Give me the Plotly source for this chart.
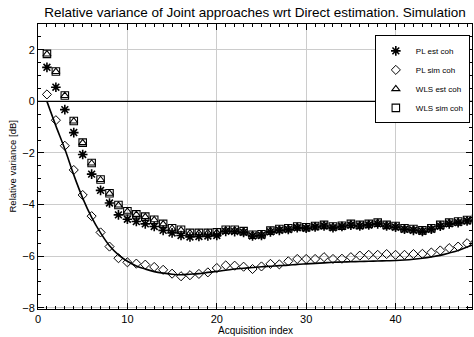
import plotly.graph_objects as go

x_idx = list(range(1, 50))

pl_est = [1.32, 0.55, -0.32, -1.21, -2.06, -2.82, -3.45, -3.94, -4.40, -4.57,
          -4.66, -4.75, -4.85, -5.00, -5.10, -5.20, -5.26, -5.24, -5.22, -5.20,
          -5.04, -5.05, -5.08, -5.22, -5.20, -5.06, -5.00, -4.97, -4.90, -4.92,
          -4.87, -4.83, -4.90, -4.85, -4.80, -4.83, -4.79, -4.75, -4.83, -4.88,
          -4.96, -5.00, -5.04, -4.96, -4.84, -4.75, -4.70, -4.64, -4.60]

pl_sim = [0.27, -0.73, -1.72, -2.66, -3.63, -4.45, -5.08, -5.63, -6.08, -6.24,
          -6.29, -6.33, -6.42, -6.53, -6.68, -6.78, -6.74, -6.69, -6.63, -6.46,
          -6.36, -6.37, -6.41, -6.50, -6.40, -6.30, -6.32, -6.20, -6.11, -6.11,
          -6.11, -6.04, -6.11, -6.10, -6.04, -5.98, -5.95, -5.95, -5.92, -5.95,
          -5.95, -5.92, -5.91, -5.86, -5.78, -5.69, -5.63, -5.50, -5.42]

wls_est = [1.83, 1.15, 0.22, -0.77, -1.61, -2.40, -3.04, -3.57, -4.03, -4.27,
           -4.39, -4.48, -4.60, -4.76, -4.93, -4.99, -5.11, -5.11, -5.10, -5.09,
           -4.99, -4.99, -5.04, -5.18, -5.16, -5.02, -4.96, -4.93, -4.86, -4.89,
           -4.84, -4.80, -4.86, -4.83, -4.76, -4.80, -4.76, -4.71, -4.80, -4.84,
           -4.93, -4.96, -5.01, -4.93, -4.80, -4.71, -4.67, -4.61, -4.56]

wls_sim = [1.84, 1.16, 0.23, -0.76, -1.60, -2.39, -3.03, -3.56, -4.02, -4.26,
           -4.38, -4.47, -4.59, -4.75, -4.92, -4.98, -5.10, -5.10, -5.10, -5.08,
           -4.98, -4.98, -5.03, -5.17, -5.15, -5.01, -4.95, -4.92, -4.85, -4.88,
           -4.83, -4.79, -4.85, -4.82, -4.75, -4.79, -4.75, -4.70, -4.79, -4.83,
           -4.92, -4.95, -5.00, -4.92, -4.79, -4.70, -4.66, -4.60, -4.55]

theory = [0.0, -0.95, -1.85, -2.85, -3.75, -4.50, -5.10, -5.60, -5.95, -6.20,
          -6.38, -6.50, -6.60, -6.66, -6.70, -6.72, -6.70, -6.68, -6.63, -6.59,
          -6.55, -6.50, -6.47, -6.44, -6.41, -6.39, -6.37, -6.35, -6.32, -6.30,
          -6.28, -6.26, -6.24, -6.23, -6.22, -6.21, -6.20, -6.19, -6.18, -6.17,
          -6.15, -6.12, -6.08, -6.03, -5.97, -5.88, -5.78, -5.65, -5.50]

names = ["PL est coh", "PL sim coh", "WLS est coh", "WLS sim coh"]

fig = go.Figure()
fig.add_trace(go.Scatter(x=x_idx, y=theory, mode="lines", line=dict(color="black", width=1.6, shape="spline"),
                         showlegend=False, hoverinfo="skip"))
fig.add_trace(go.Scatter(x=x_idx, y=wls_sim, mode="markers", name=names[3],
                         marker=dict(symbol="square-open", size=7.5, color="black", line=dict(width=1.1))))
fig.add_trace(go.Scatter(x=x_idx, y=wls_est, mode="markers", name=names[2],
                         marker=dict(symbol="triangle-up-open", size=7, color="black", line=dict(width=1.1))))
fig.add_trace(go.Scatter(x=x_idx, y=pl_sim, mode="markers", name=names[1],
                         marker=dict(symbol="diamond-open", size=7, color="black", line=dict(width=1))))
fig.add_trace(go.Scatter(x=x_idx, y=pl_est, mode="markers", name=names[0],
                         marker=dict(symbol="asterisk-open", size=8, color="black", line=dict(width=1.6))))

fig.add_hline(y=0, line=dict(color="black", width=1.2))

axis_common = dict(
    showline=True, linecolor="black", linewidth=1, mirror="allticks",
    ticks="inside", tickcolor="black", ticklen=6, tickwidth=1,
    showgrid=True, gridcolor="#cccccc", gridwidth=1.2, zeroline=False,
    tickfont=dict(family="Liberation Sans", size=11, color="black"),
)

fig.update_xaxes(range=[0, 48.55], dtick=10, tick0=0,
                 minor=dict(dtick=1, ticklen=3, ticks="inside", tickcolor="black", showgrid=False),
                 **axis_common)
fig.update_yaxes(range=[-8.05, 3.0], dtick=2, tick0=0,
                 minor=dict(dtick=0.5, ticklen=3, ticks="inside", tickcolor="black", showgrid=False),
                 **axis_common)

fig.update_layout(
    width=474, height=337,
    margin=dict(l=38, r=2, t=24, b=28),
    plot_bgcolor="white", paper_bgcolor="white",
    font=dict(family="Liberation Sans", color="black"),
    title=dict(text="Relative variance of Joint approaches wrt Direct estimation. Simulation",
               x=0.538, xref="container", xanchor="center", y=1 - 12 / 337, yref="container",
               yanchor="middle", font=dict(size=13.5, family="Liberation Sans", color="black")),
    legend=dict(x=0.995, y=0.96, xanchor="right", yanchor="top",
                bordercolor="black", borderwidth=1, bgcolor="white",
                font=dict(size=8, family="Liberation Sans", color="black"),
                traceorder="reversed", itemwidth=30, tracegroupgap=0),
    annotations=[
        dict(text="Acquisition index", xref="paper", yref="paper", x=0.5, y=-21.5 / 285,
             xanchor="center", yanchor="middle", showarrow=False,
             font=dict(size=10, family="Liberation Sans", color="black")),
        dict(text="Relative variance [dB]", xref="paper", yref="paper", x=-26 / 434, y=0.5,
             xanchor="center", yanchor="middle", textangle=-90, showarrow=False,
             font=dict(size=9.5, family="Liberation Sans", color="black")),
    ],
)

fig.write_html("out.html")
